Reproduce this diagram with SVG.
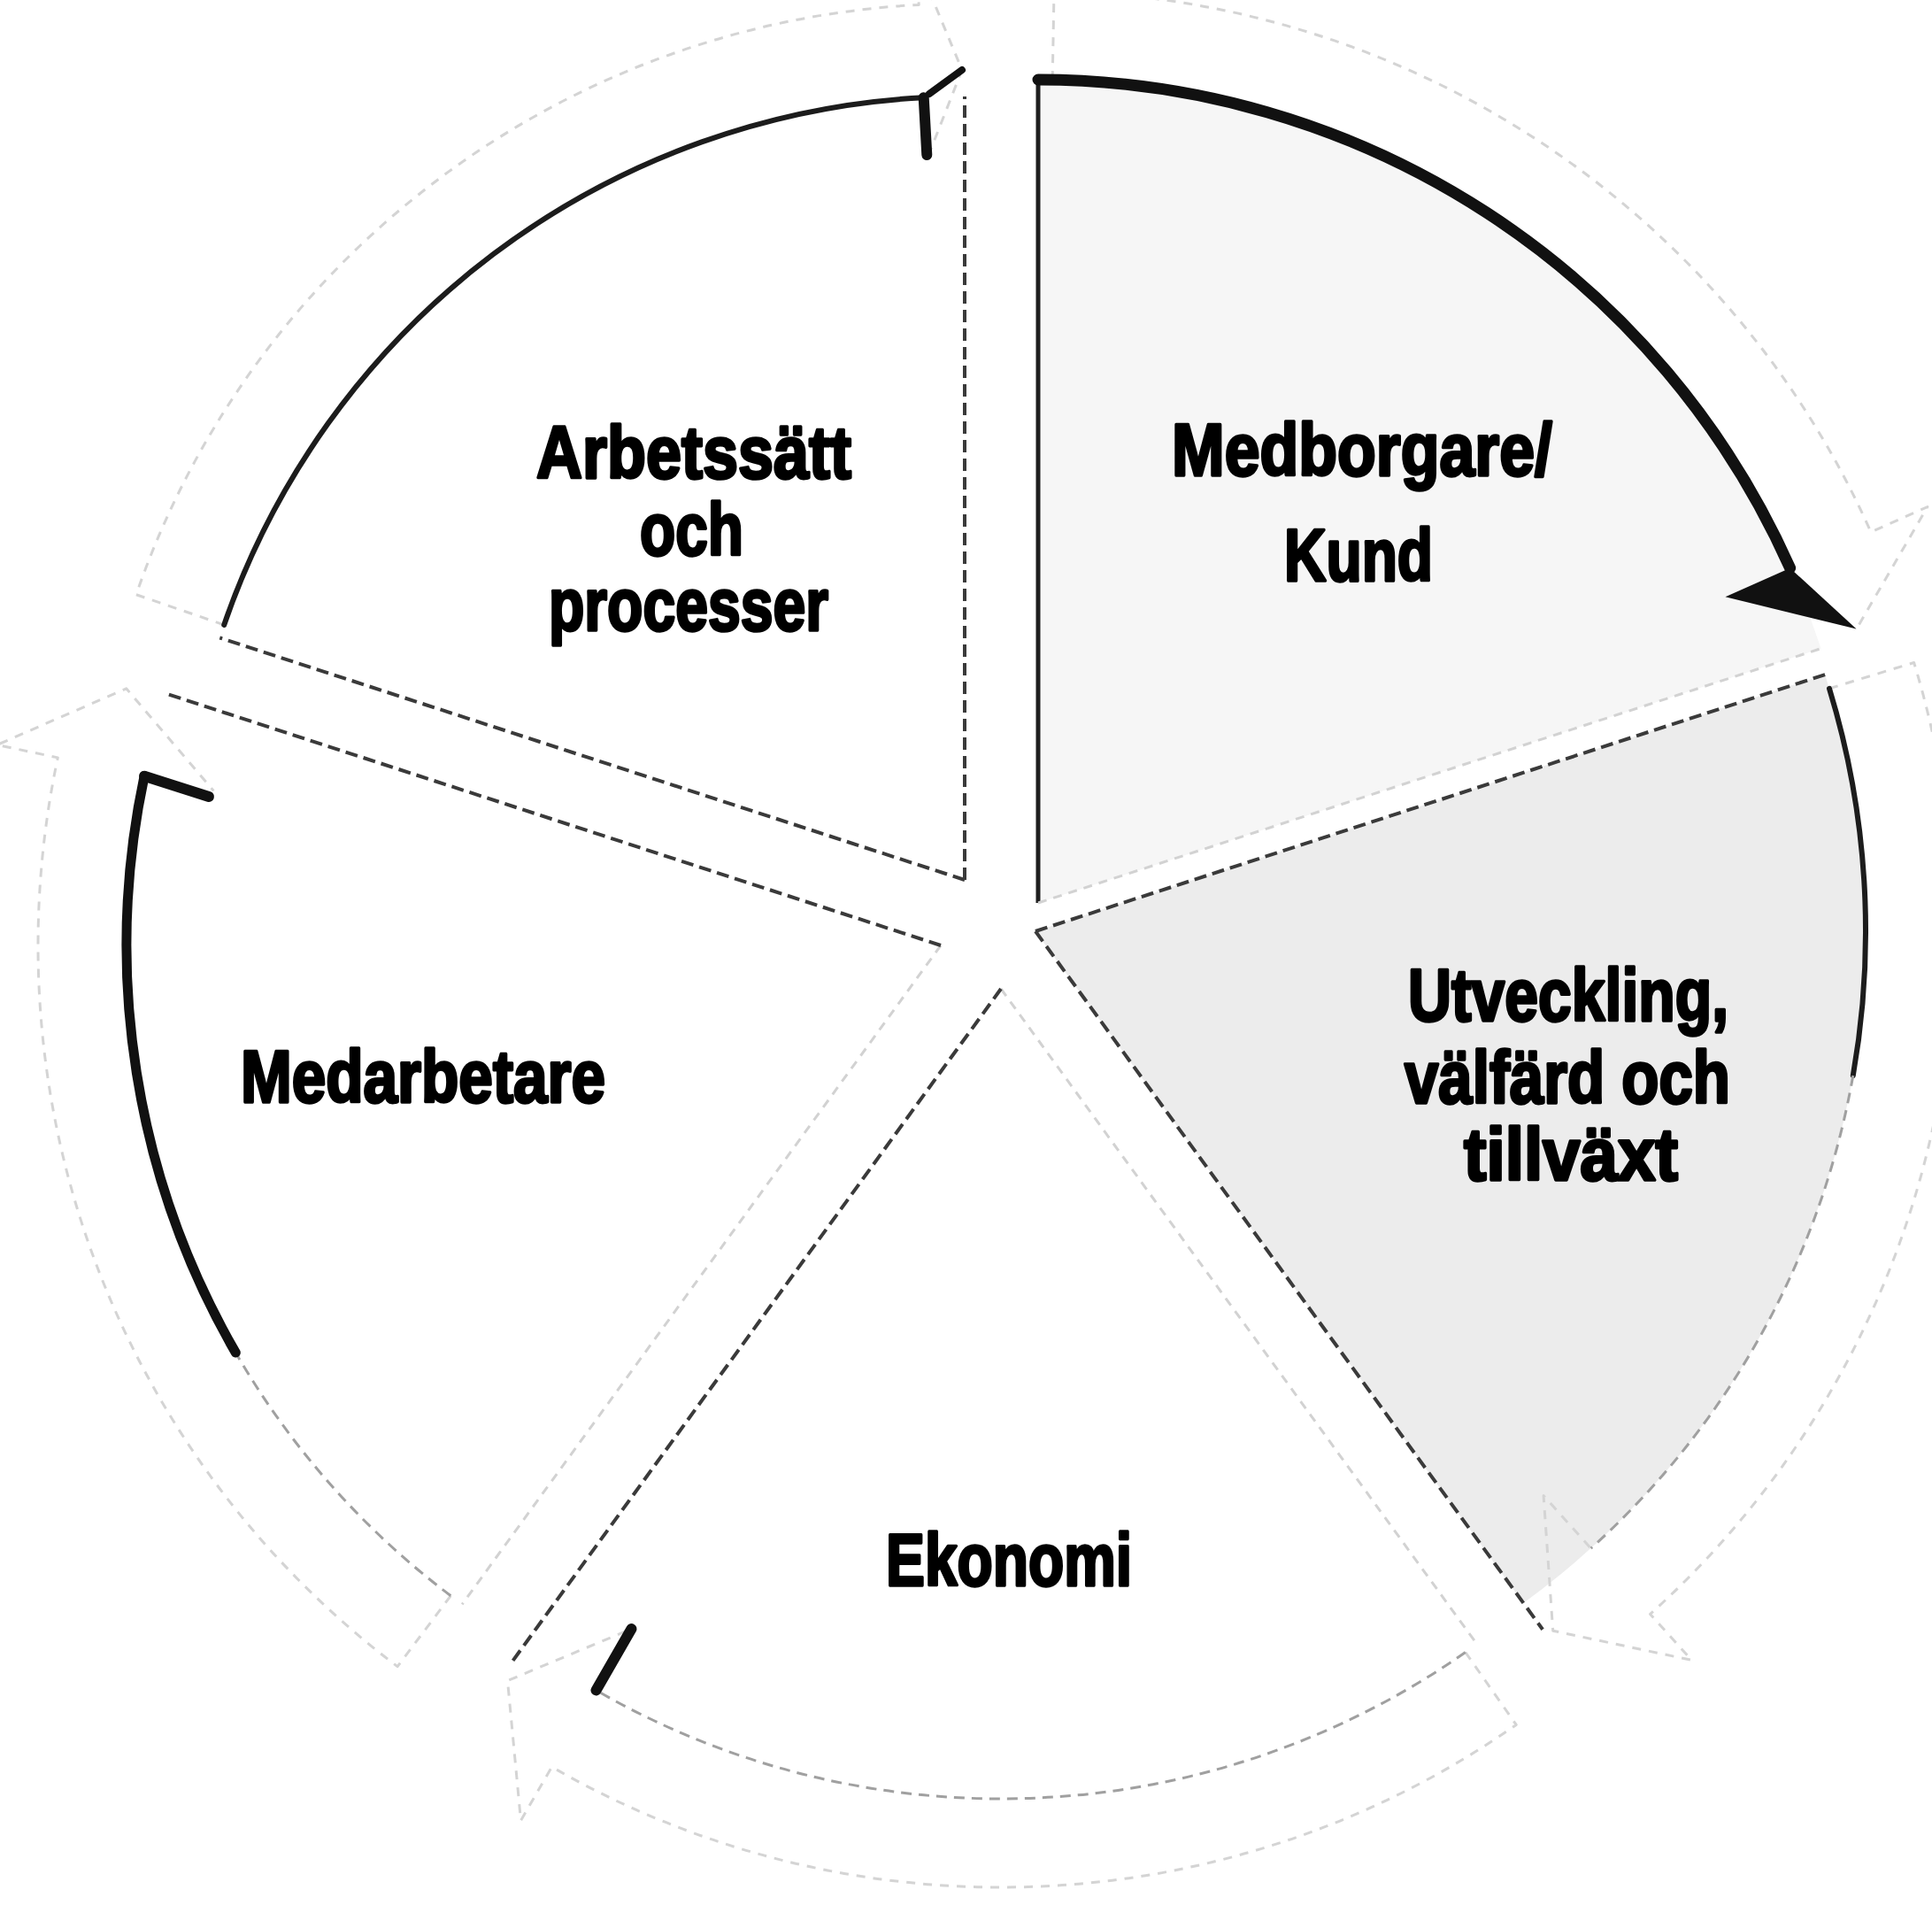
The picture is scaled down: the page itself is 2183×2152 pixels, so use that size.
<svg xmlns="http://www.w3.org/2000/svg" width="2183" height="2152" viewBox="0 0 2183 2152">
<style>
.bg{fill:#ffffff}
.slice{stroke:none}
.s-white{fill:#ffffff}
.s-tr{fill:#f6f6f6}
.s-r{fill:#ececec}
.edge{stroke:#3a3a3a;stroke-width:4;stroke-dasharray:14 7;fill:none}
.edge-solid{stroke:#1e1e1e;stroke-width:5;fill:none}
.edge-faint{stroke:#d2d2d2;stroke-width:3;stroke-dasharray:10 8;fill:none}
.arc-dark{fill:none;stroke:#111;stroke-width:13;stroke-linecap:round}
.arc-mid{fill:none;stroke:#1c1c1c;stroke-width:6;stroke-linecap:round}
.arc-light{fill:none;stroke:#a0a0a0;stroke-width:3;stroke-dasharray:12 8}
.band{fill:none;stroke:#d4d4d4;stroke-width:3;stroke-dasharray:10 9;stroke-linejoin:round}
.head-dark{fill:#111}
.barb{stroke:#111;stroke-width:12;stroke-linecap:round}
.lbl{font-family:"Liberation Sans",Arial,sans-serif;font-weight:700;font-size:84px;fill:#000;stroke:#000;stroke-width:3.5;stroke-linejoin:round}
</style>
<rect class="bg" x="0" y="0" width="2183" height="2152"/>

<g id="node-medborgare">
  <path class="slice s-tr" d="M1173,1020 L1173,90 A930 930 0 0 1 2057.5,732.6 Z"/>
  <line class="edge-solid" x1="1173" y1="90" x2="1173" y2="1020"/>
  <line class="edge-faint" x1="1173" y1="1020" x2="2057.5" y2="732.6"/>
  <text class="lbl" x="1324" y="537" textLength="430" lengthAdjust="spacingAndGlyphs">Medborgare/</text>
  <text class="lbl" x="1451" y="656" textLength="168" lengthAdjust="spacingAndGlyphs">Kund</text>
</g>

<g id="node-utveckling">
  <path class="slice s-r" d="M1170,1052 L2062.1,762.1 A938 938 0 0 1 1721.3,1810.9 Z"/>
  <line class="edge" x1="1170" y1="1052" x2="2062.1" y2="762.1"/>
  <line class="edge" x1="1170" y1="1052" x2="1743.1" y2="1840.8"/>
  <text class="lbl" x="1591" y="1153" textLength="362" lengthAdjust="spacingAndGlyphs">Utveckling,</text>
  <text class="lbl" x="1587" y="1246" textLength="368" lengthAdjust="spacingAndGlyphs">välfärd och</text>
  <text class="lbl" x="1654" y="1333" textLength="242" lengthAdjust="spacingAndGlyphs">tillväxt</text>
</g>

<g id="node-ekonomi">
  <path class="slice s-white" d="M1131,1117 L1668.8,1857.3 A915 915 0 0 1 593.2,1857.3 Z"/>
  <line class="edge-faint" x1="1131" y1="1117" x2="1668.8" y2="1857.3"/>
  <line class="edge" x1="1131" y1="1117" x2="575.5" y2="1881.5"/>
  <text class="lbl" x="1001" y="1791" textLength="278" lengthAdjust="spacingAndGlyphs">Ekonomi</text>
</g>

<g id="node-medarbetare">
  <path class="slice s-white" d="M1063,1068 L522.2,1812.3 A920 920 0 0 1 188,783.7 Z"/>
  <line class="edge-faint" x1="1063" y1="1068" x2="522.2" y2="1812.3"/>
  <line class="edge" x1="1063" y1="1068" x2="188" y2="783.7"/>
  <text class="lbl" x="272" y="1245" textLength="412" lengthAdjust="spacingAndGlyphs">Medarbetare</text>
</g>

<g id="node-arbetssatt">
  <path class="slice s-white" d="M1090,994 L248.3,720.5 A885 885 0 0 1 1090,109 Z"/>
  <line class="edge" x1="1090" y1="994" x2="248.3" y2="720.5"/>
  <line class="edge" x1="1090" y1="994" x2="1090" y2="109"/>
  <text class="lbl" x="606" y="540" textLength="356" lengthAdjust="spacingAndGlyphs">Arbetssätt</text>
  <text class="lbl" x="723" y="627" textLength="117" lengthAdjust="spacingAndGlyphs">och</text>
  <text class="lbl" x="620" y="712" textLength="316" lengthAdjust="spacingAndGlyphs">processer</text>
</g>

<g id="connectors">
  <path class="band" d="M1189.2,90.1 L1191,-9.8 A1030 1030 0 0 1 2114,601.1 L2177.9,572.6 L2097.6,710.6"/>
  <path class="band" d="M2067,777.8 L2162.6,748.5 A1038 1038 0 0 1 1864.6,1823.4 L1911.4,1875.4 L1754.7,1842.2 L1744.1,1689.6 L1797.6,1749.1"/>
  <path class="band" d="M1655.8,1866.5 L1713.2,1948.4 A1015 1015 0 0 1 623.5,1996 L588.5,2056.6 L573.5,1898.6 L713.5,1840.1"/>
  <path class="band" d="M509.3,1802.7 L449.1,1882.6 A1020 1020 0 0 1 65.3,855.9 L-3.2,841.4 L142.7,777.8 L241.4,893.4"/>
  <path class="band" d="M253.2,705.9 L153.9,671.7 A990 990 0 0 1 1038.2,5.4 L1035.6,-44.6 L1087,79 L1047.3,180.1"/>

  <path class="arc-dark" d="M1173,90 A930 930 0 0 1 2022.6,641.7"/>
  <path class="arc-mid" d="M2067,777.8 A938 938 0 0 1 2093.8,1214.9"/>
  <path class="arc-light" d="M2093.8,1214.9 A938 938 0 0 1 1797.6,1749.1"/>
  <path class="arc-light" d="M1655.8,1866.5 A915 915 0 0 1 673.5,1909.4"/>
  <path class="arc-light" d="M509.3,1802.7 A920 920 0 0 1 266.3,1528"/>
  <path class="arc-dark" d="M266.3,1528 A920 920 0 0 1 163.1,876.7" style="stroke-width:11"/>
  <path class="arc-mid" d="M253.2,705.9 A885 885 0 0 1 1043.7,110.2"/>

  <polygon class="head-dark" points="2022.6,641.7 1949.5,674.3 2097.6,710.6"/>
  <line class="barb" x1="673.5" y1="1909.4" x2="713.5" y2="1840.1"/>
  <line class="barb" x1="163.1" y1="876.7" x2="236" y2="900"/>
  <line class="barb" x1="1043.7" y1="110.2" x2="1047.3" y2="175"/>
  <line class="barb" x1="1050" y1="106" x2="1087" y2="79" style="stroke-width:8"/>
</g>
</svg>
